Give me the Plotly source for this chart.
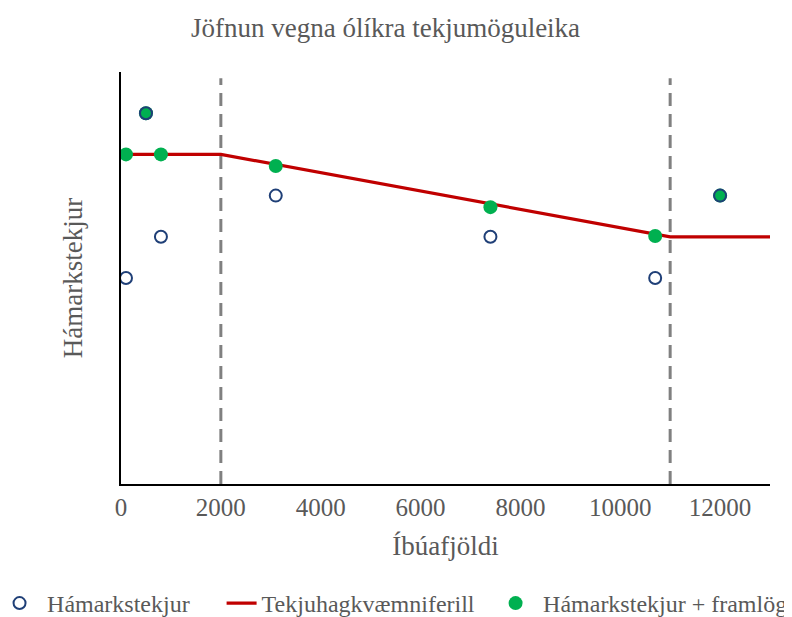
import plotly.graph_objects as go

# Data
hollow_x = [100, 500, 800, 3100, 7400, 10700, 12000]
hollow_y = [5, 9, 6, 7, 6, 5, 7]
green_x = [100, 500, 800, 3100, 7400, 10700, 12000]
green_y = [8, 9, 8, 7.72, 6.72, 6.02, 7]
curve_x = [0, 2000, 11000, 13000]
curve_y = [8, 8, 6, 6]
threshold_x = [2000, 11000]
x_ticks = [0, 2000, 4000, 6000, 8000, 10000, 12000]

FONT = "Liberation Serif, Times New Roman, serif"
GREY = "#595959"

fig = go.Figure()
fig.add_trace(go.Scatter(x=curve_x, y=curve_y, mode="lines", name="Tekjuhagkvæmniferill",
                         line=dict(color="#C00000", width=3.2), legend="legend2"))
fig.add_trace(go.Scatter(x=green_x, y=green_y, mode="markers", name="Hámarkstekjur + framlög",
                         marker=dict(color="#00B050", size=14, line=dict(width=0)), legend="legend3"))
fig.add_trace(go.Scatter(x=hollow_x, y=hollow_y, mode="markers", name="Hámarkstekjur",
                         marker=dict(color="rgba(0,0,0,0)", size=12,
                                     line=dict(color="#1F3F77", width=2)), legend="legend"))

for tx in threshold_x:
    fig.add_shape(type="line", x0=tx, x1=tx, y0=0, y1=0.985, xref="x", yref="paper",
                  line=dict(color="#808080", width=3, dash="13px,8px"), layer="below")

leg_common = dict(orientation="h", xanchor="left", y=-0.29, yanchor="middle",
                  font=dict(size=24, color=GREY, family=FONT), bgcolor="rgba(0,0,0,0)")

fig.update_layout(
    width=792, height=617,
    paper_bgcolor="white", plot_bgcolor="white",
    margin=dict(l=113, r=30, t=64, b=141, autoexpand=False),
    font=dict(family=FONT, color=GREY, size=23),
    title=dict(text="Jöfnun vegna ólíkra tekjumöguleika", x=0.4767, xanchor="center",
               y=0.969, yanchor="middle", font=dict(size=27, color=GREY, family=FONT)),
    xaxis=dict(range=[0, 13000], tickvals=x_ticks, ticktext=[str(v) for v in x_ticks],
               showgrid=False, zeroline=False, showline=True, linecolor="black", linewidth=2,
               ticks="", automargin=False, tickfont=dict(size=25, color=GREY, family=FONT),
               title=dict(text="Íbúafjöldi", font=dict(size=27, color=GREY, family=FONT), standoff=16)),
    yaxis=dict(range=[0, 10], showticklabels=False, showgrid=False, zeroline=False,
               showline=True, linecolor="black", linewidth=2, ticks="", automargin=False,
               title=dict(text="Hámarkstekjur", font=dict(size=27, color=GREY, family=FONT), standoff=29)),
    legend=dict(x=-0.1987, itemwidth=45, **leg_common),
    legend2=dict(x=0.155, itemwidth=30, **leg_common),
    legend3=dict(x=0.5656, itemwidth=45, **leg_common),
    showlegend=True,
)

fig.write_html("out.html")
